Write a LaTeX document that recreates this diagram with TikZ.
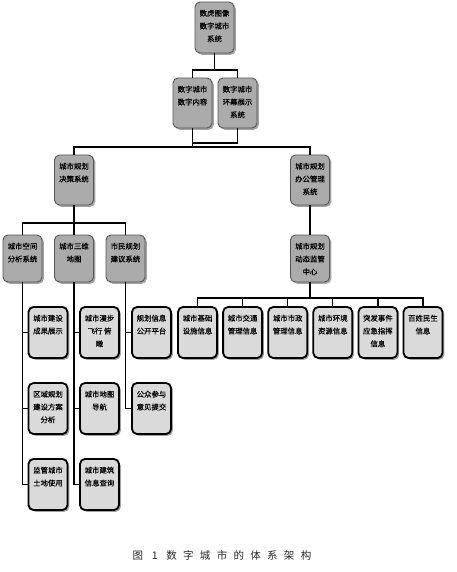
\documentclass[tikz,border=0pt]{standalone}
\usepackage{fontspec}
\newfontfamily\cjk{Noto Sans CJK SC}[FakeBold=0.5]
\newfontfamily\capfont{Noto Sans CJK SC}
\usetikzlibrary{shadows}
\definecolor{upfill}{HTML}{ABABAB}
\definecolor{leaffill}{HTML}{DADADA}
\definecolor{updraw}{HTML}{555555}
\newcommand\bx[2]{\parbox[c][#1][t]{39pt}{\centering\rule{0pt}{14pt}#2}}
\tikzset{
  base/.style={rectangle, rounded corners=5pt, inner sep=0pt, outer sep=0pt,
    font=\cjk\fontsize{7.4}{12.8}\selectfont,
    drop shadow={shadow xshift=1.8pt, shadow yshift=-1.8pt, fill=black!45, opacity=0.8}},
  upper/.style={base, fill=upfill, draw=updraw, line width=0.9pt},
  leaf/.style={base, fill=leaffill, draw=black, line width=1.8pt},
  conn/.style={draw=black, line width=1.3pt},
}
\begin{document}
\begin{tikzpicture}[x=1pt,y=-1pt]
\useasboundingbox (0,0) rectangle (457,572);
% top levels
\node[upper] (top) at (214.5,27.5) {\bx{51pt}{数虎图像\\数字城市\\系统}};
\node[upper] (l2a) at (192.5,103) {\bx{50pt}{数字城市\\数字内容}};
\node[upper] (l2b) at (237.5,103) {\bx{50pt}{数字城市\\环幕展示\\系统}};
\node[upper] (l3a) at (74,180) {\bx{50pt}{城市规划\\决策系统}};
\node[upper] (l3b) at (310,180) {\bx{50pt}{城市规划\\办公管理\\系统}};
\node[upper] (l4a) at (22.5,258.5) {\bx{47pt}{城市空间\\分析系统}};
\node[upper] (l4b) at (74,258.5) {\bx{47pt}{城市三维\\地图}};
\node[upper] (l4c) at (125.5,258.5) {\bx{47pt}{市民规划\\建议系统}};
\node[upper] (l4d) at (310,258.5) {\bx{47pt}{城市规划\\动态监管\\中心}};
% left leaves
\node[leaf] (a1) at (48,332.5) {\bx{51pt}{城市建设\\成果展示}};
\node[leaf] (a2) at (48,408.5) {\bx{51pt}{区域规划\\建设方案\\分析}};
\node[leaf] (a3) at (48,484.5) {\bx{51pt}{监管城市\\土地使用}};
\node[leaf] (b1) at (99.5,332.5) {\bx{51pt}{城市漫步\\飞行 俯\\瞰}};
\node[leaf] (b2) at (99.5,408.5) {\bx{51pt}{城市地图\\导航}};
\node[leaf] (b3) at (99.5,484.5) {\bx{51pt}{城市建筑\\信息查询}};
\node[leaf] (c1) at (151.5,332.5) {\bx{51pt}{规划信息\\公开平台}};
\node[leaf] (c2) at (151.5,408.5) {\bx{51pt}{公众参与\\意见提交}};
% right leaves
\node[leaf] (r1) at (197.5,332.5) {\bx{51pt}{城市基础\\设施信息}};
\node[leaf] (r2) at (242.6,332.5) {\bx{51pt}{城市交通\\管理信息}};
\node[leaf] (r3) at (287.7,332.5) {\bx{51pt}{城市市政\\管理信息}};
\node[leaf] (r4) at (332.8,332.5) {\bx{51pt}{城市环境\\资源信息}};
\node[leaf] (r5) at (377.9,332.5) {\bx{51pt}{突发事件\\应急指挥\\信息}};
\node[leaf] (r6) at (423,332.5) {\bx{51pt}{百姓民生\\信息}};
% junctions
\coordinate (j1) at (214.5,70);
\coordinate (j2) at (192.5,143);
\coordinate (j3) at (192.5,147);
\coordinate (j4) at (74,223);
\coordinate (j5) at (310,298);
% connectors
\draw[conn] (top.south) -- (j1);
\draw[conn] (l2a.north) -- (l2a.north |- j1) -- (l2b.north |- j1) -- (l2b.north);
\draw[conn] (l2b.south) |- (j2);
\draw[conn] (l2a.south) -- (j3);
\draw[conn] (l3a.north) |- (j3) -| (l3b.north);
\draw[conn] (l3a.south) -- (j4);
\draw[conn] (l4a.north) |- (j4) -| (l4c.north);
\draw[conn] (j4) -- (l4b.north);
\draw[conn] (l3b.south) -- (l4d.north);
\draw[conn] (l4d.south) -- (j5);
\draw[conn] (r1.north) |- (j5) -| (r6.north);
\foreach \n in {r2,r3,r4,r5} \draw[conn] (\n.north) -- (\n.north |- j5);
\draw[conn] (l4a.south) |- (a3.west);
\draw[conn] (a1.west) -- (a1.west -| l4a.south);
\draw[conn] (a2.west) -- (a2.west -| l4a.south);
\draw[conn] (l4b.south) |- (b3.west);
\draw[conn] (b1.west) -- (b1.west -| l4b.south);
\draw[conn] (b2.west) -- (b2.west -| l4b.south);
\draw[conn] (l4c.south) |- (c2.west);
\draw[conn] (c1.west) -- (c1.west -| l4c.south);
% caption
\node[font=\capfont\fontsize{10.5}{12}\selectfont\addfontfeature{LetterSpace=60}, text=black!85] (cap) at (222,555) {图 1 数字城市的体系架构};
\end{tikzpicture}
\end{document}
